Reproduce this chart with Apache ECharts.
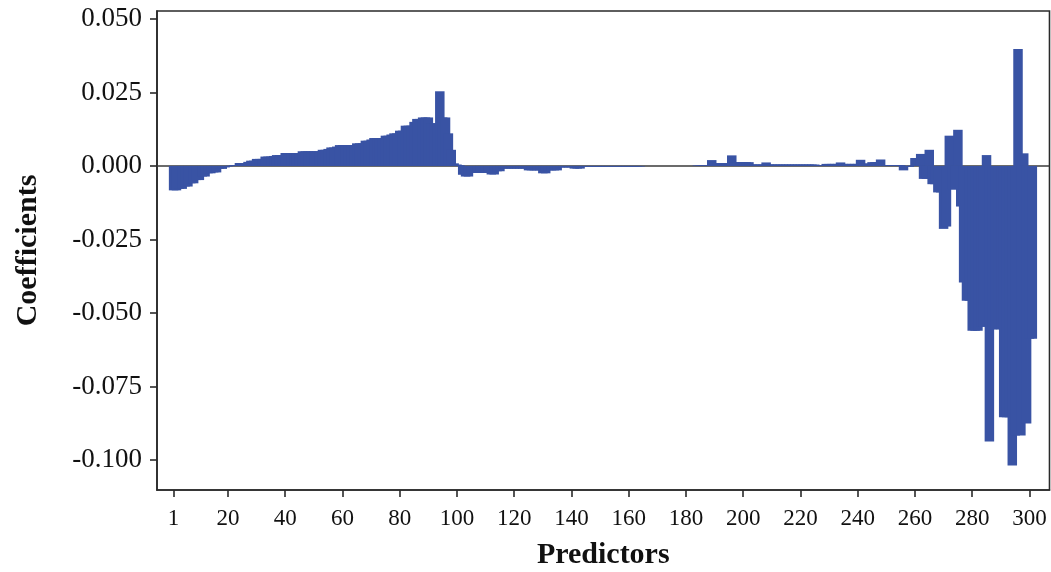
<!DOCTYPE html>
<html>
<head>
<meta charset="utf-8">
<script src="https://cdn.jsdelivr.net/npm/echarts@6/dist/echarts.min.js"></script>
<style>
html,body{margin:0;padding:0;background:#fff;}
#chart{width:1051px;height:572px;}
</style>
</head>
<body>
<div id="chart"></div>
<script>
// Predictor coefficients (predictor 1 .. 301)
const coefficients = [
-0.0083,-0.0083,-0.0078,-0.0078,-0.0070,-0.0070,-0.0059,-0.0059,-0.0048,-0.0048,
-0.0036,-0.0036,-0.0025,-0.0025,-0.0022,-0.0022,-0.0010,-0.0010,-0.0005,-0.0002,
0.0001,0.0003,0.0003,0.0010,0.0010,0.0010,0.0014,0.0018,0.0018,0.0024,
0.0024,0.0024,0.0032,0.0032,0.0032,0.0034,0.0037,0.0037,0.0037,0.0044,
0.0044,0.0044,0.0044,0.0044,0.0044,0.0050,0.0050,0.0050,0.0050,0.0050,
0.0050,0.0050,0.0055,0.0055,0.0058,0.0063,0.0063,0.0066,0.0071,0.0071,
0.0071,0.0071,0.0071,0.0071,0.0077,0.0077,0.0077,0.0086,0.0086,0.0090,
0.0095,0.0095,0.0095,0.0095,0.0103,0.0103,0.0107,0.0111,0.0111,0.0120,
0.0120,0.0137,0.0137,0.0137,0.0150,0.0160,0.0160,0.0165,0.0165,0.0165,
0.0145,0.0145,0.0145,0.0254,0.0165,0.0165,0.0111,0.0055,0.0009,0.0005,
0.0003,-0.0030,-0.0036,-0.0036,-0.0024,-0.0024,-0.0024,-0.0024,-0.0024,-0.0024,
-0.0024,-0.0029,-0.0029,-0.0018,-0.0018,-0.0009,-0.0009,-0.0009,-0.0009,-0.0009,
-0.0009,-0.0009,-0.0009,-0.0009,-0.0015,-0.0015,-0.0015,-0.0015,-0.0015,-0.0025,
-0.0025,-0.0015,-0.0015,-0.0015,-0.0015,-0.0005,-0.0005,-0.0005,-0.0005,-0.0005,
-0.0009,-0.0009,-0.0009,-0.0003,-0.0003,-0.0003,-0.0003,-0.0003,-0.0003,-0.0003,
-0.0002,-0.0002,-0.0002,-0.0002,-0.0002,-0.0002,-0.0002,-0.0002,-0.0002,-0.0002,
-0.0002,-0.0002,-0.0002,-0.0002,0,0,0,0,0,0,
0,0,0,0,0,0,0,0,0,0,
0,0,0,0.0002,0.0002,0.0002,0.0002,0.0002,0.0020,0.0010,
0.0010,0.0010,0.0010,0.0010,0.0010,0.0036,0.0013,0.0013,0.0013,0.0013,
0.0013,0.0013,0.0005,0.0005,0.0005,0.0005,0.0005,0.0012,0.0005,0.0005,
0.0005,0.0005,0.0005,0.0005,0.0005,0.0005,0.0005,0.0005,0.0005,0.0005,
0.0005,0.0005,0.0005,0.0005,0.0005,0.0002,0.0002,0.0002,0.0007,0.0007,
0.0007,0.0007,0.0007,0.0012,0.0007,0.0007,0.0007,0.0007,0.0007,0.0007,
0.0021,0.0008,0.0008,0.0008,0.0013,0.0013,0.0013,0.0022,0.0003,0.0003,
0.0003,0.0003,0.0003,0.0003,0.0003,-0.0015,-0.0003,-0.0003,0.0001,0.0027,
0.0027,0.0041,-0.0044,-0.0044,0.0055,-0.0062,-0.0062,-0.0090,-0.0090,-0.0214,
-0.0206,0.0103,-0.0080,-0.0080,0.0123,-0.0138,-0.0396,-0.0458,-0.0458,-0.0560,
-0.0560,-0.0560,-0.0547,-0.0547,0.0037,-0.0937,-0.0555,-0.0555,-0.0555,-0.0555,
-0.0855,-0.0855,-0.0855,-0.1019,-0.0917,0.0398,-0.0917,0.0043,-0.0876,-0.0588,
-0.0588
];
const xTickLabels = [1,20,40,60,80,100,120,140,160,180,200,220,240,260,280,300];
const yTickLabels = [-0.100,-0.075,-0.050,-0.025,0.000,0.025,0.050];
const xTitle = 'Predictors';
const yTitle = 'Coefficients';

const X_MIN = -4.8, X_MAX = 307;
const barData = coefficients.map((v, i) => [i + 1, v]);

const chart = echarts.init(document.getElementById('chart'), null, {renderer: 'canvas'});
const font = '"Liberation Serif", "Times New Roman", serif';
chart.setOption({
  animation: false,
  backgroundColor: '#ffffff',
  grid: {left: 157, right: 1.5, top: 11, bottom: 82, outerBoundsMode: 'none', containLabel: false,
    show: true, borderColor: '#2a2a2a', borderWidth: 1.6, backgroundColor: 'transparent'},
  xAxis: {
    type: 'value', min: X_MIN, max: X_MAX,
    name: xTitle, nameLocation: 'middle', nameGap: 50,
    nameTextStyle: {fontFamily: font, fontWeight: 'bold', fontSize: 30, color: '#111'},
    axisLine: {onZero: false, lineStyle: {color: '#2a2a2a', width: 1.6}},
    axisTick: {show: true, customValues: xTickLabels, length: 7, lineStyle: {color: '#2a2a2a', width: 1.6}},
    axisLabel: {customValues: xTickLabels, fontFamily: font, fontSize: 23, color: '#111', margin: 17},
    splitLine: {show: false}
  },
  yAxis: {
    type: 'value', min: -0.1102, max: 0.0527,
    name: yTitle, nameLocation: 'middle', nameGap: 114, nameRotate: 90,
    nameTextStyle: {fontFamily: font, fontWeight: 'bold', fontSize: 30, color: '#111'},
    axisLine: {onZero: false, lineStyle: {color: '#2a2a2a', width: 1.6}},
    axisTick: {show: true, customValues: yTickLabels, length: 7, lineStyle: {color: '#2a2a2a', width: 1.6}},
    axisLabel: {customValues: yTickLabels, fontFamily: font, fontSize: 27, color: '#111', margin: 15,
      formatter: v => v.toFixed(3)},
    splitLine: {show: false}
  },
  series: [
    {
      type: 'line', z: 1, silent: true, symbol: 'none',
      data: [[X_MIN, 0], [X_MAX, 0]],
      lineStyle: {color: '#3a3a3a', width: 1.6}
    },
    {
      type: 'bar', z: 2, silent: true,
      data: barData,
      barWidth: 9.5,
      itemStyle: {color: '#3953a4'}
    }
  ]
});
</script>
</body>
</html>
